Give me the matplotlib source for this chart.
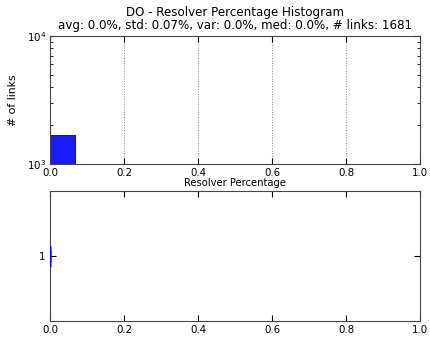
import numpy as np
import matplotlib.pyplot as plt

# histogram of resolver percentage per link
bin_lefts = [0.0]
bin_counts = [1681]
bin_width = 1.0 / 15

# box plot summary of the same values
box_stats = [dict(med=0.0, q1=0.0, q3=0.0, whislo=0.0, whishi=0.0, fliers=[])]

title = 'DO - Resolver Percentage Histogram\navg: 0.0%, std: 0.07%, var: 0.0%, med: 0.0%, # links: 1681'
x_ticks = [0.0, 0.2, 0.4, 0.6, 0.8, 1.0]

plt.rcParams['font.family'] = 'DejaVu Sans'
plt.rcParams['xtick.direction'] = 'in'
plt.rcParams['ytick.direction'] = 'in'

fig = plt.figure(figsize=(4.3, 3.37), dpi=100)
ax1 = fig.add_axes([50 / 430, 1 - 164 / 337, 370 / 430, 128 / 337])
ax2 = fig.add_axes([50 / 430, 1 - 321 / 337, 370 / 430, 130 / 337])

ax1.bar(bin_lefts, bin_counts, width=bin_width, align='edge',
        color='#1a1aff', edgecolor='#00008b', linewidth=0.6)
ax1.set_yscale('log')
ax1.set_ylim(1e3, 1e4)
ax1.set_xlim(0, 1)
ax1.set_xticks(x_ticks)
ax1.set_xticklabels(['%.1f' % t for t in x_ticks])
ax1.xaxis.grid(True, linestyle=':', color='#888888', linewidth=0.7)
ax1.set_xlabel('Resolver Percentage', fontsize=7.2, labelpad=0)
ax1.set_ylabel('# of links', fontsize=7.8, labelpad=6)
ax1.set_title(title, fontsize=8.6, pad=5, linespacing=1.0)

ax2.bxp(box_stats, vert=False, widths=0.15, showfliers=False,
        boxprops=dict(color='blue', zorder=4),
        whiskerprops=dict(color='blue', linestyle='--', zorder=2),
        capprops=dict(color='black', zorder=2),
        medianprops=dict(color='red', zorder=3))
ax2.set_xlim(0, 1)
ax2.set_ylim(0.5, 1.5)
ax2.set_xticks(x_ticks)
ax2.set_xticklabels(['%.1f' % t for t in x_ticks])
ax2.set_yticks([1])
ax2.set_yticklabels(['1'])

for ax in (ax1, ax2):
    ax.tick_params(labelsize=7.4, top=True, right=True, length=4, pad=3)
    ax.tick_params(which='minor', top=True, right=True, length=2)
    for sp in ax.spines.values():
        sp.set_color('#444444')

fig.savefig('out.png', dpi=100, facecolor='white')
